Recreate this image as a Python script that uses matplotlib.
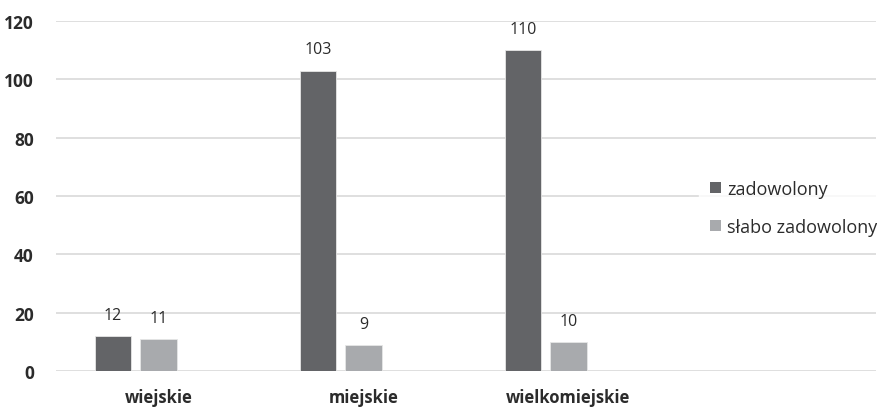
import matplotlib
matplotlib.use("Agg")
import matplotlib.pyplot as plt
from matplotlib.patches import Patch
import numpy as np

categories = ["wiejskie", "miejskie", "wielkomiejskie"]
zadowolony = [12, 103, 110]
slabo_zadowolony = [11, 9, 10]
series_names = ["zadowolony", "słabo zadowolony"]
yticks = [0, 20, 40, 60, 80, 100, 120]

dark = "#636467"
light = "#a8aaad"
grid_col = "#d9d9d9"
text_col = "#2b2b2b"

plt.rcParams["font.family"] = ["Open Sans", "DejaVu Sans"]

fig = plt.figure(figsize=(8.78, 4.10), dpi=100)
ax = fig.add_axes([56 / 878, 38 / 410, 820 / 878, 350 / 410])

x = np.arange(len(categories))
width = 0.176
step = 0.222
# excel chart had room for 3 series per group, third one empty
for i, (vals, col) in enumerate([(zadowolony, dark), (slabo_zadowolony, light)]):
    pos = x + (i - 1) * step
    bars = ax.bar(pos, vals, width, color=col, edgecolor="#e6e6e6", linewidth=0.6, zorder=3)
    for b, v in zip(bars, vals):
        ax.annotate(str(v), (b.get_x() + b.get_width() / 2, v), xytext=(0, 9.5),
                    textcoords="offset points", ha="center", va="bottom",
                    fontsize=11.5, color=text_col)

ax.set_xlim(-0.5, 3.5)
ax.set_ylim(0, 120)
ax.set_yticks(yticks)
ax.set_yticklabels([str(t) for t in yticks], fontsize=12.5, fontweight="bold", color=text_col)
ax.set_xticks(x)
ax.set_xticklabels(categories, fontsize=12, fontweight="bold", color=text_col)
ax.tick_params(axis="y", length=0, pad=16)
ax.tick_params(axis="x", length=0, pad=12)
ax.grid(axis="y", color=grid_col, linewidth=1.2, zorder=0)
for s in ax.spines.values():
    s.set_visible(False)

handles = [Patch(facecolor=dark), Patch(facecolor=light)]
leg = fig.legend(handles, series_names, loc="center left", bbox_to_anchor=(690 / 878, 1 - 209 / 410),
                 frameon=True, fontsize=13, handlelength=0.6, handleheight=0.6,
                 handletextpad=0.35, labelspacing=1.1, borderpad=0.6, labelcolor=text_col)
leg.get_frame().set_facecolor("white")
leg.get_frame().set_edgecolor("white")

fig.savefig("out.png", dpi=100, facecolor="white")
